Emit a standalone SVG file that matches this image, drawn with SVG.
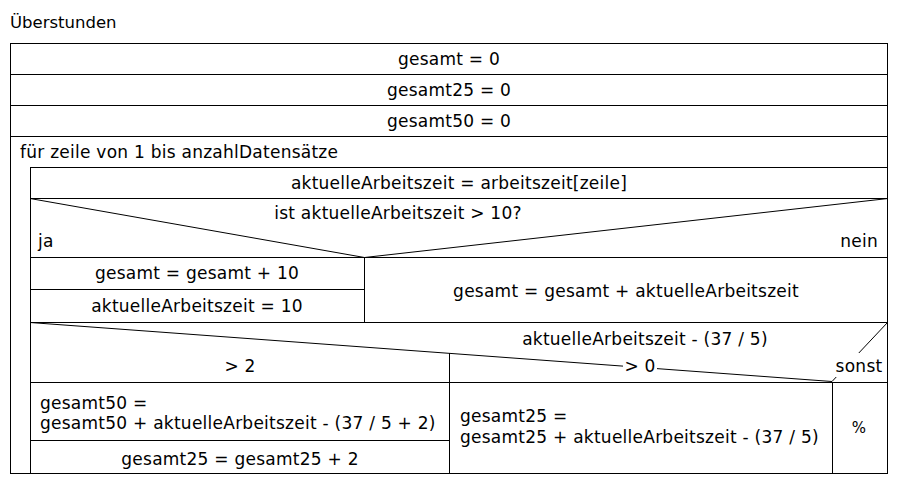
<svg xmlns="http://www.w3.org/2000/svg" width="898" height="485" viewBox="0 0 898 485">
<style>
text{font-family:"DejaVu Sans","Liberation Sans",sans-serif;font-size:17px;letter-spacing:0.25px;fill:#000}
.c{text-anchor:middle}
.r{text-anchor:end}
.ln{stroke:#000;stroke-width:1;fill:none}
.bg{fill:#fff}
</style>
<rect width="898" height="485" fill="#fff"/>
<text x="10" y="28" style="font-size:16.5px;letter-spacing:0">Überstunden</text>
<g id="connectors">
<rect class="ln" x="10.5" y="43.5" width="877" height="430"/>
<line class="ln" x1="10" y1="74.5" x2="888" y2="74.5"/>
<line class="ln" x1="10" y1="105.5" x2="888" y2="105.5"/>
<line class="ln" x1="10" y1="136.5" x2="888" y2="136.5"/>
<line class="ln" x1="30.5" y1="167.5" x2="888" y2="167.5"/>
<line class="ln" x1="30.5" y1="167" x2="30.5" y2="474"/>
<line class="ln" x1="30" y1="198.5" x2="888" y2="198.5"/>
<polyline class="ln" points="30,198.5 364.5,257.5 888,198.5"/>
<line class="ln" x1="30" y1="257.5" x2="888" y2="257.5"/>
<line class="ln" x1="364.5" y1="257" x2="364.5" y2="322"/>
<line class="ln" x1="30" y1="289.5" x2="364" y2="289.5"/>
<line class="ln" x1="30" y1="322.5" x2="888" y2="322.5"/>
<line class="ln" x1="30" y1="322.5" x2="832" y2="381.5"/>
<line class="ln" x1="832" y1="381.5" x2="887.5" y2="322.5"/>
<line class="ln" x1="30" y1="382.5" x2="888" y2="382.5"/>
<line class="ln" x1="449.5" y1="353" x2="449.5" y2="474"/>
<line class="ln" x1="832.5" y1="382" x2="832.5" y2="474"/>
<line class="ln" x1="30" y1="440.5" x2="449" y2="440.5"/>
</g>
<g id="n1"><text class="c" x="449" y="65">gesamt = 0</text></g>
<g id="n2"><text class="c" x="449" y="96">gesamt25 = 0</text></g>
<g id="n3"><text class="c" x="449" y="127">gesamt50 = 0</text></g>
<g id="loop"><text x="20" y="158">für zeile von 1 bis anzahlDatensätze</text></g>
<g id="n4"><text class="c" x="459" y="189">aktuelleArbeitszeit = arbeitszeit[zeile]</text></g>
<g id="if1">
<text class="c" x="398" y="219">ist aktuelleArbeitszeit &gt; 10?</text>
<text x="38" y="247">ja</text>
<text class="r" x="878" y="247">nein</text>
</g>
<g id="n5"><text class="c" x="197" y="279">gesamt = gesamt + 10</text></g>
<g id="n6"><text class="c" x="197" y="312">aktuelleArbeitszeit = 10</text></g>
<g id="n7"><text class="c" x="626" y="297">gesamt = gesamt + aktuelleArbeitszeit</text></g>
<g id="case">
<text class="c" x="645" y="345">aktuelleArbeitszeit - (37 / 5)</text>
<text class="c" x="240" y="372">&gt; 2</text>
<rect class="bg" x="623" y="359" width="34" height="17"/>
<text class="c" x="640" y="372">&gt; 0</text>
<rect class="bg" x="835" y="353" width="50" height="24"/>
<text class="c" x="859" y="372">sonst</text>
</g>
<g id="n8"><text x="40" y="409">gesamt50 =</text><text x="40" y="429">gesamt50 + aktuelleArbeitszeit - (37 / 5 + 2)</text></g>
<g id="n9"><text class="c" x="240" y="465">gesamt25 = gesamt25 + 2</text></g>
<g id="n10"><text x="460" y="422">gesamt25 =</text><text x="460" y="443">gesamt25 + aktuelleArbeitszeit - (37 / 5)</text></g>
<g id="n11"><text class="c" x="859" y="433" style="font-size:15px">%</text></g>
</svg>
